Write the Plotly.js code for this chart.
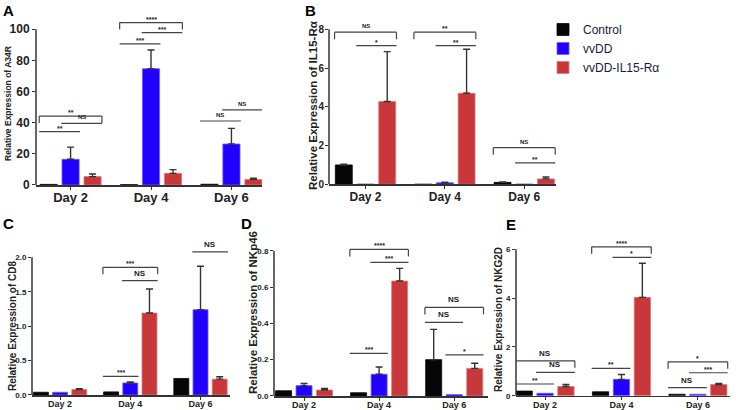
<!DOCTYPE html>
<html><head><meta charset="utf-8">
<script src="https://cdn.plot.ly/plotly-3.0.1.min.js"></script>
<style>html,body{margin:0;padding:0;background:#fff;}#chart{width:736px;height:410px;}</style>
</head><body><div id="chart"></div>
<script>
// ---------- DATA ----------
const days = ["Day 2", "Day 4", "Day 6"];
const groupNames = ["Control", "vvDD", "vvDD-IL15-Rα"];

// A: A34R
const a34rControl = [0.4, 0.2, 0.5];
const a34rVvdd    = [16.5, 74.7, 26.3];
const a34rIl15    = [5.4, 7.5, 3.6];
const a34rControlErr = [null, null, null];
const a34rVvddErr    = [7.8, 12.0, 10.1];
const a34rIl15Err    = [1.7, 2.4, 0.8];
// [day, fromGroup, toGroup, level, label, bracket]
const a34rSig = [
  [0, 0, 1, 34.3, "**", 0], [0, 1, 2, 39.6, "NS", 0], [0, 0, 2, 44.3, "**", 1],
  [1, 0, 1, 90.6, "***", 0], [1, 1, 2, 97.9, "***", 0], [1, 0, 2, 104.3, "****", 1],
  [2, 0, 1, 41.1, "NS", 0], [2, 1, 2, 48.2, "NS", 0]
];

// B: IL15-Rα
const il15Control = [1.0, 0.0, 0.1];
const il15Vvdd    = [0.01, 0.08, 0.01];
const il15Il15    = [4.27, 4.7, 0.28];
const il15ControlErr = [0.04, null, 0.02];
const il15VvddErr    = [null, 0.03, null];
const il15Il15Err    = [2.58, 2.27, 0.1];
const il15Sig = [
  [0, 0, 2, 7.85, "NS", 1], [0, 1, 2, 7.16, "*", 0],
  [1, 0, 2, 7.85, "**", 1], [1, 1, 2, 7.16, "**", 0],
  [2, 0, 2, 1.89, "NS", 1], [2, 1, 2, 1.11, "**", 0]
];

// C: CD8
const cd8Control = [0.04, 0.045, 0.24];
const cd8Vvdd    = [0.04, 0.175, 1.24];
const cd8Il15    = [0.08, 1.19, 0.23];
const cd8ControlErr = [null, null, null];
const cd8VvddErr    = [null, 0.015, 0.63];
const cd8Il15Err    = [0.012, 0.35, 0.035];
const cd8Sig = [
  [1, 0, 1, 0.27, "***", 0], [1, 1, 2, 1.66, "NS", 0], [1, 0, 2, 1.855, "***", 1],
  [2, 1, 2, 2.08, "NS", 0]
];

// D: NKp46
const nkp46Control = [0.029, 0.018, 0.2];
const nkp46Vvdd    = [0.057, 0.12, 0.008];
const nkp46Il15    = [0.033, 0.633, 0.152];
const nkp46ControlErr = [null, null, 0.167];
const nkp46VvddErr    = [0.012, 0.04, null];
const nkp46Il15Err    = [0.008, 0.07, 0.028];
const nkp46Sig = [
  [1, 0, 1, 0.235, "***", 0], [1, 1, 2, 0.736, "***", 0], [1, 0, 2, 0.807, "****", 1],
  [2, 0, 1, 0.405, "NS", 0], [2, 0, 2, 0.488, "NS", 1], [2, 1, 2, 0.226, "*", 0]
];

// E: NKG2D
const nkg2dControl = [0.19, 0.16, 0.06];
const nkg2dVvdd    = [0.1, 0.67, 0.06];
const nkg2dIl15    = [0.38, 4.03, 0.46];
const nkg2dControlErr = [null, null, null];
const nkg2dVvddErr    = [null, 0.2, null];
const nkg2dIl15Err    = [0.08, 1.4, 0.04];
const nkg2dSig = [
  [0, 0, 1, 0.48, "**", 0], [0, 1, 2, 0.96, "NS", 0], [0, 0, 2, 1.43, "NS", 1],
  [1, 0, 1, 1.12, "**", 0], [1, 1, 2, 5.67, "*", 0], [1, 0, 2, 6.1, "****", 1],
  [2, 0, 1, 0.33, "NS", 0], [2, 1, 2, 0.94, "***", 0], [2, 0, 2, 1.39, "*", 1]
];

// ---------- STYLE / LAYOUT ----------
const W = 736, H = 410;
const FONT = "Liberation Sans, Arial, sans-serif";
const colors = ["#060606", "#2200ff", "#c8373a"];
const edge = ["#060606", "#6f5cff", "#e07a7c"];
const BARGAP = 0.18, GROUPGAP = 0.22;
const slot = (1 - BARGAP) / 3;
const halfW = slot * (1 - GROUPGAP) / 2;

const panels = [
  {letter: "A", lx: 8, ly: 10, title: "Relative Expression of A34R", tfs: 8.5, tx: 8, ty: 104,
   vals: [a34rControl, a34rVvdd, a34rIl15], errs: [a34rControlErr, a34rVvddErr, a34rIl15Err], sig: a34rSig,
   px: [36, 262], y0: 185, pxu: 1.557, top: 112, dtick: 20, tickTop: 100, fmt: "d", xr: [-0.43, 2.38],
   yfs: 12, xfs: 13, starFs: 7, nsFs: 6, xso: -3, yso: 0},
  {letter: "B", lx: 310, ly: 10, title: "Relative Expression of IL15-Rα", tfs: 11.5, tx: 313, ty: 106,
   vals: [il15Control, il15Vvdd, il15Il15], errs: [il15ControlErr, il15VvddErr, il15Il15Err], sig: il15Sig,
   px: [329, 556], y0: 184.3, pxu: 19.375, top: 8.6, dtick: 2, tickTop: 8, fmt: "d", xr: [-0.46, 2.4],
   yfs: 10, xfs: 12, starFs: 7, nsFs: 6, xso: -2, yso: -1},
  {letter: "C", lx: 8, ly: 223, title: "Relative Expression of CD8", tfs: 10, tx: 12, ty: 326,
   vals: [cd8Control, cd8Vvdd, cd8Il15], errs: [cd8ControlErr, cd8VvddErr, cd8Il15Err], sig: cd8Sig,
   px: [32, 230], y0: 395, pxu: 68.85, top: 2.25, dtick: 0.5, tickTop: 2, fmt: ".1f", xr: [-0.4, 2.42],
   yfs: 8, xfs: 9, starFs: 7, nsFs: 8, xso: -3, yso: 0},
  {letter: "D", lx: 246, ly: 223, title: "Relative Expression of NKp46", tfs: 11.5, tx: 253, ty: 313,
   vals: [nkp46Control, nkp46Vvdd, nkp46Il15], errs: [nkp46ControlErr, nkp46VvddErr, nkp46Il15Err], sig: nkp46Sig,
   px: [274, 488], y0: 396, pxu: 181.6, top: 0.87, dtick: 0.2, tickTop: 0.8, fmt: ".1f", xr: [-0.4, 2.45],
   yfs: 8, xfs: 9, starFs: 7, nsFs: 8, xso: -3, yso: 0},
  {letter: "E", lx: 511, ly: 224, title: "Relative Expression of NKG2D", tfs: 10, tx: 498, ty: 319,
   vals: [nkg2dControl, nkg2dVvdd, nkg2dIl15], errs: [nkg2dControlErr, nkg2dVvddErr, nkg2dIl15Err], sig: nkg2dSig,
   px: [516, 730], y0: 395.7, pxu: 24.4, top: 6.6, dtick: 2, tickTop: 6, fmt: "d", xr: [-0.38, 2.42],
   yfs: 8, xfs: 9, starFs: 7, nsFs: 8, xso: -3, yso: 0}
];

const dayPos = days.map((d, i) => i);
const traces = [];
const shapes = [];
const annotations = [];
const layout = {
  width: W, height: H, margin: {l: 0, r: 0, t: 0, b: 0},
  paper_bgcolor: "#fff", plot_bgcolor: "rgba(0,0,0,0)",
  barmode: "group", bargap: BARGAP, bargroupgap: GROUPGAP,
  font: {family: FONT, color: "#222"},
  showlegend: true,
  legend: {x: 543 / W, y: 1 - 15 / H, xanchor: "left", yanchor: "top", bgcolor: "rgba(0,0,0,0)",
           font: {family: FONT, size: 12, color: "#1a1a3a"}, tracegroupgap: 0, itemclick: false}
};

panels.forEach((p, k) => {
  const n = k + 1;
  const xa = "x" + (n === 1 ? "" : n), ya = "y" + (n === 1 ? "" : n);
  const xKey = "xaxis" + (n === 1 ? "" : n), yKey = "yaxis" + (n === 1 ? "" : n);
  const topPx = p.y0 - p.top * p.pxu;
  p.vals.forEach((v, g) => {
    traces.push({
      type: "bar", x: dayPos, y: v, name: groupNames[g], xaxis: xa, yaxis: ya,
      legendgroup: groupNames[g], showlegend: k === 0,
      marker: {color: colors[g], line: {color: edge[g], width: 0.8}},
      error_y: {type: "data", symmetric: false,
        array: p.errs[g].map(e => e === null ? NaN : e),
        arrayminus: p.errs[g].map(e => NaN),
        color: "#333", thickness: 1.4, width: 3.5},
      hoverinfo: "skip"
    });
  });
  layout[xKey] = {
    domain: [p.px[0] / W, p.px[1] / W], anchor: ya, range: p.xr,
    tickvals: dayPos, ticktext: days, ticks: "outside", ticklen: 3, tickwidth: 1, tickcolor: "#333",
    ticklabelstandoff: p.xso,
    showline: true, linecolor: "#333", linewidth: 1.5, showgrid: false, zeroline: false, fixedrange: true,
    tickfont: {family: FONT, size: p.xfs, weight: "bold", color: "#222"}
  };
  layout[yKey] = {
    domain: [(H - p.y0) / H, (H - topPx) / H], anchor: xa, range: [0, p.top],
    dtick: p.dtick, tick0: 0, tickformat: p.fmt, ticks: "outside", ticklen: 3, tickwidth: 1, tickcolor: "#333",
    ticklabelstandoff: p.yso,
    showline: false, showgrid: false, zeroline: false, fixedrange: true,
    tickfont: {family: FONT, size: p.yfs, weight: "bold", color: "#222"}
  };
  // y-axis line only up to the top tick
  shapes.push({type: "line", xref: xa + " domain", yref: ya, x0: 0, x1: 0, y0: 0, y1: p.tickTop,
               line: {color: "#333", width: 1.5}});
  // panel letter
  annotations.push({xref: "paper", yref: "paper", x: p.lx / W, y: 1 - p.ly / H, text: p.letter,
    showarrow: false, xanchor: "center", yanchor: "middle",
    font: {family: FONT, size: 15, weight: "bold", color: "#000"}});
  // y title
  annotations.push({xref: "paper", yref: "paper", x: p.tx / W, y: 1 - p.ty / H,
    text: p.title, textangle: -90,
    showarrow: false, xanchor: "center", yanchor: "middle",
    font: {family: FONT, size: p.tfs, weight: "bold", color: "#222"}});
  // significance markers
  const drop = 7 / p.pxu;
  p.sig.forEach(s => {
    const [d, i, j, lev, lab, br] = s;
    const x0 = dayPos[d] + (i - 1) * slot - halfW - 0.01;
    const x1 = dayPos[d] + (j - 1) * slot + halfW + 0.01;
    const ln = {color: "#444", width: 1.2};
    shapes.push({type: "line", xref: xa, yref: ya, x0: x0, x1: x1, y0: lev, y1: lev, line: ln});
    if (br) {
      shapes.push({type: "line", xref: xa, yref: ya, x0: x0, x1: x0, y0: lev, y1: lev - drop, line: ln});
      shapes.push({type: "line", xref: xa, yref: ya, x0: x1, x1: x1, y0: lev, y1: lev - drop, line: ln});
    }
    const isNS = lab === "NS";
    annotations.push({xref: xa, yref: ya, x: (x0 + x1) / 2, y: lev, text: lab, showarrow: false,
      xanchor: "center", yanchor: "bottom", yshift: isNS ? 1 : -2,
      font: {family: FONT, size: isNS ? p.nsFs : p.starFs, weight: "bold", color: "#222"}});
  });
});

layout.shapes = shapes;
layout.annotations = annotations;
Plotly.newPlot("chart", traces, layout, {displayModeBar: false, staticPlot: true});
</script>
</body></html>
